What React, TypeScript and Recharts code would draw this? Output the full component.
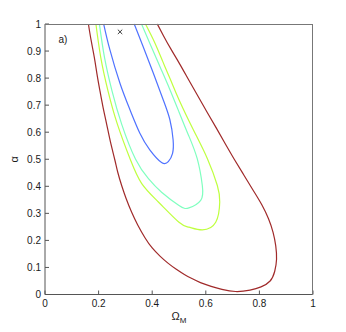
import React from "react";
import { ComposedChart, Line, XAxis, YAxis, Scatter, ReferenceDot } from "recharts";

// contour levels (Omega_M, alpha)
const redX = [
  0.162, 0.172, 0.184, 0.194, 0.205, 0.217, 0.23, 0.244, 0.26, 0.272, 0.286, 0.303, 0.323, 0.346, 0.373,
  0.4, 0.43, 0.46, 0.49, 0.52, 0.55, 0.58, 0.62, 0.66, 0.711, 0.765, 0.806, 0.84, 0.857, 0.864, 0.861, 0.851,
  0.834, 0.81, 0.78, 0.743, 0.705, 0.672, 0.64, 0.606, 0.572, 0.538, 0.504, 0.47, 0.443, 0.419,
];
const redY = [
  1.0, 0.94, 0.877, 0.815, 0.753, 0.69, 0.63, 0.565, 0.5, 0.45, 0.403, 0.354, 0.305, 0.257, 0.21,
  0.172, 0.141, 0.115, 0.093, 0.074, 0.058, 0.044, 0.03, 0.019, 0.011, 0.016, 0.028, 0.05, 0.085, 0.13, 0.18, 0.23,
  0.28, 0.33, 0.38, 0.44, 0.502, 0.558, 0.614, 0.672, 0.731, 0.79, 0.85, 0.907, 0.955, 1.0,
];

const yellowX = [0.19, 0.208, 0.235, 0.27, 0.318, 0.361, 0.423, 0.5, 0.537, 0.587, 0.637, 0.652, 0.643, 0.606, 0.553, 0.5, 0.47, 0.44, 0.41, 0.375];
const yellowY = [1.0, 0.877, 0.753, 0.63, 0.5, 0.41, 0.342, 0.267, 0.249, 0.239, 0.267, 0.342, 0.403, 0.502, 0.61, 0.72, 0.79, 0.86, 0.93, 1.0];

const cyanX = [0.203, 0.222, 0.25, 0.286, 0.338, 0.386, 0.435, 0.5, 0.537, 0.581, 0.587, 0.568, 0.535, 0.5, 0.465, 0.43, 0.395, 0.36];
const cyanY = [1.0, 0.877, 0.753, 0.63, 0.5, 0.428, 0.378, 0.329, 0.32, 0.348, 0.403, 0.502, 0.59, 0.675, 0.76, 0.84, 0.92, 1.0];

const blueX = [0.219, 0.242, 0.28, 0.317, 0.354, 0.391, 0.435, 0.46, 0.476, 0.478, 0.466, 0.441, 0.404, 0.366, 0.333];
const blueY = [1.0, 0.905, 0.78, 0.683, 0.596, 0.535, 0.488, 0.491, 0.522, 0.572, 0.646, 0.72, 0.819, 0.917, 1.0];

const bestFit = { x: 0.28, y: 0.971 };
const panelTag = { x: 0.067, y: 0.946, text: "a)" };

const xTicks = [0, 0.2, 0.4, 0.6, 0.8, 1];
const yTicks = [0, 0.1, 0.2, 0.3, 0.4, 0.5, 0.6, 0.7, 0.8, 0.9, 1];

const toPoints = (xs: number[], ys: number[]) => xs.map((x, i) => ({ x, y: ys[i] }));

const contours = [
  { name: "c4", color: "#a02a2a", data: toPoints(redX, redY) },
  { name: "c3", color: "#bfff3f", data: toPoints(yellowX, yellowY) },
  { name: "c2", color: "#7fffbf", data: toPoints(cyanX, cyanY) },
  { name: "c1", color: "#4f72ff", data: toPoints(blueX, blueY) },
];

const font = "'Liberation Sans', Arial, sans-serif";
const tickStyle = { fontSize: 10, fill: "#1a1a1a", fontFamily: font };
const frame = "#555";

// plot box, same numbers as the chart margins below
const box = { left: 45, top: 24, width: 268, height: 271 };

const Cross = (props: any) => {
  const { cx, cy } = props;
  const s = 2.2;
  return (
    <path
      d={`M${cx - s},${cy - s}L${cx + s},${cy + s}M${cx + s},${cy - s}L${cx - s},${cy + s}`}
      stroke="#222"
      strokeWidth={0.9}
      fill="none"
    />
  );
};

export default function App() {
  return (
    <div style={{ position: "absolute", left: 0, top: 0, width: 346, height: 332 }}>
      <ComposedChart
        width={346}
        height={332}
        margin={{ top: 24, right: 33, left: 5, bottom: 7.5 }}
      >
        <XAxis
          type="number"
          dataKey="x"
          domain={[0, 1]}
          ticks={xTicks}
          height={30}
          tickSize={-4}
          tickMargin={9}
          tick={tickStyle}
          stroke={frame}
          interval={0}
          label={{
            content: (p: any) => {
              const vb = p.viewBox;
              return (
                <text
                  x={vb.x + vb.width / 2}
                  y={vb.y + 25.5}
                  textAnchor="middle"
                  fontFamily={font}
                  fontSize={11}
                  fill="#1a1a1a"
                >
                  Ω<tspan dy={3} fontSize={8}>M</tspan>
                </text>
              );
            },
          }}
        />
        <YAxis
          type="number"
          dataKey="y"
          domain={[0, 1]}
          ticks={yTicks}
          width={40}
          tickSize={-4}
          tickMargin={8}
          tick={tickStyle}
          stroke={frame}
          interval={0}
          label={{
            content: (p: any) => {
              const vb = p.viewBox;
              const x = vb.x + 13;
              const y = vb.y + vb.height / 2;
              return (
                <text
                  x={x}
                  y={y}
                  transform={`rotate(-90 ${x} ${y})`}
                  textAnchor="middle"
                  fontFamily={font}
                  fontSize={11}
                  fill="#1a1a1a"
                >
                  α
                </text>
              );
            },
          }}
        />
        {contours.map((c) => (
          <Line
            key={c.name}
            data={c.data}
            dataKey="y"
            type="natural"
            stroke={c.color}
            strokeWidth={1.2}
            dot={false}
            activeDot={false}
            isAnimationActive={false}
          />
        ))}
        <Scatter data={[bestFit]} dataKey="y" shape={Cross} isAnimationActive={false} />
        <ReferenceDot
          x={panelTag.x}
          y={panelTag.y}
          shape={(p: any) => (
            <text
              x={p.cx}
              y={p.cy + 4}
              textAnchor="middle"
              fontFamily={font}
              fontSize={10}
              fill="#1a1a1a"
            >
              {panelTag.text}
            </text>
          )}
        />
      </ComposedChart>
      <div
        style={{
          position: "absolute",
          left: box.left,
          top: box.top,
          width: box.width,
          height: box.height,
          boxSizing: "border-box",
          borderTop: "1px solid #777",
          borderRight: "1px solid #777",
          pointerEvents: "none",
        }}
      />
    </div>
  );
}
